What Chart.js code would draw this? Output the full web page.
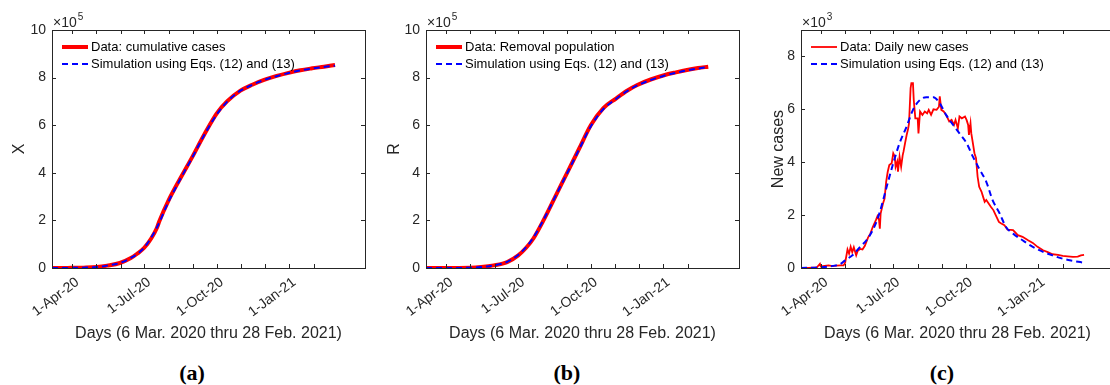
<!DOCTYPE html>
<html>
<head>
<meta charset="utf-8">
<script src="https://cdn.jsdelivr.net/npm/chart.js@4.4.0/dist/chart.umd.min.js"></script>
<style>
  html, body { margin: 0; padding: 0; background: #fff; overflow: hidden; width: 1110px; height: 385px; }
  .panel { position: absolute; top: 0; }
  .cap { position: absolute; top: 360px; width: 60px; margin-left: -30px; text-align: center;
         font: bold 22px "Liberation Serif", "Times New Roman", serif; line-height: 26px; color: #000; }
</style>
</head>
<body>
<canvas id="chartA" class="panel" width="370" height="345" style="left:0px"></canvas>
<canvas id="chartB" class="panel" width="370" height="345" style="left:370px"></canvas>
<canvas id="chartC" class="panel" width="375" height="345" style="left:740px"></canvas>
<div class="cap" style="left:192px">(a)</div>
<div class="cap" style="left:567px">(b)</div>
<div class="cap" style="left:942px">(c)</div>
<script>
// x values are days counted from 6 Mar 2020
const monthTicks = [26, 56, 87, 117, 148, 179, 209, 240, 270, 301, 332];
const monthLabels = { 26: '1-Apr-20', 117: '1-Jul-20', 209: '1-Oct-20', 301: '1-Jan-21' };

// (a) cumulative cases, x10^5
const casesDays = [0, 20, 40, 57, 70, 86, 100, 108, 117, 126, 133, 136, 148, 163, 178, 193, 209, 222, 239, 254, 269, 285, 300, 315, 330, 345, 359];
const casesData = [0, 0.005, 0.015, 0.04, 0.1, 0.21, 0.42, 0.6, 0.85, 1.25, 1.68, 1.95, 2.85, 3.78, 4.67, 5.6, 6.5, 7.0, 7.45, 7.7, 7.9, 8.07, 8.2, 8.31, 8.39, 8.46, 8.53];
const simXDays = [0, 20, 40, 57, 70, 86, 100, 117, 133, 148, 163, 178, 193, 209, 222, 239, 254, 269, 285, 300, 315, 330, 345, 359];
const simXData = [0, 0.005, 0.015, 0.04, 0.1, 0.21, 0.42, 0.86, 1.7, 2.8, 3.75, 4.65, 5.58, 6.45, 6.98, 7.45, 7.7, 7.9, 8.06, 8.19, 8.3, 8.38, 8.45, 8.5];

// (b) removal population, x10^5
const removedDays = [0, 30, 56, 70, 86, 103, 117, 127, 136, 149, 164, 179, 194, 209, 225, 241, 255, 268, 285, 302, 317, 331, 345, 358];
const removedData = [0, 0.002, 0.01, 0.04, 0.11, 0.25, 0.53, 0.85, 1.23, 2.0, 3.0, 4.0, 5.0, 6.0, 6.72, 7.12, 7.45, 7.69, 7.92, 8.1, 8.22, 8.32, 8.4, 8.46];
const simRDays = [0, 30, 56, 70, 86, 103, 117, 127, 136, 149, 164, 179, 194, 209, 225, 241, 255, 268, 285, 302, 317, 331, 345, 358];
const simRData = [0, 0.002, 0.01, 0.04, 0.11, 0.26, 0.55, 0.88, 1.27, 2.02, 3.0, 3.98, 4.97, 5.95, 6.68, 7.1, 7.43, 7.67, 7.9, 8.08, 8.2, 8.3, 8.38, 8.44];

// (c) daily new cases, x10^3
const newDays = [0, 10, 20, 24, 25, 30, 35, 40, 45, 50, 54, 56, 59, 61, 63, 65, 67, 70, 72, 75, 78, 81, 85, 88, 91, 95, 97, 99, 100, 101, 104, 106, 108, 110, 112, 115, 117, 119, 120, 122, 123, 125, 127, 129, 130, 132, 134, 136, 137, 139, 140, 142, 143, 145, 148, 149, 151, 154, 157, 160, 162, 165, 168, 172, 175, 176, 178, 181, 184, 188, 191, 194, 196, 199, 201, 204, 208, 210, 212, 213, 215, 216, 218, 220, 222, 224, 226, 229, 231, 233, 235, 238, 241, 244, 248, 251, 254, 258, 262, 266, 269, 275, 281, 288, 294, 300, 307, 313, 319, 326, 332, 338, 345, 351, 355, 359];
const newCases = [0, 0, 0.02, 0.16, 0.06, 0.08, 0.1, 0.07, 0.09, 0.1, 0.1, 0.2, 0.7, 0.54, 0.8, 0.6, 0.78, 0.48, 0.65, 0.72, 0.7, 0.84, 1.15, 1.3, 1.55, 1.81, 1.96, 1.81, 1.49, 2.06, 2.44, 2.63, 3.26, 3.64, 3.89, 3.96, 4.34, 4.21, 3.83, 4.02, 3.64, 4.21, 3.83, 4.27, 4.4, 4.72, 5.03, 5.28, 5.47, 6.8, 6.99, 6.99, 6.36, 5.66, 5.66, 5.09, 5.92, 5.79, 5.92, 5.85, 5.98, 5.79, 6.0, 5.98, 6.1, 6.49, 5.98, 5.92, 5.79, 5.54, 5.6, 5.41, 5.6, 5.28, 5.73, 5.66, 5.73, 5.6, 5.41, 5.03, 5.47, 5.09, 4.72, 4.34, 4.15, 3.45, 3.07, 2.88, 2.69, 2.5, 2.57, 2.44, 2.31, 2.19, 1.93, 1.74, 1.68, 1.62, 1.45, 1.44, 1.43, 1.24, 1.18, 1.05, 0.95, 0.8, 0.67, 0.6, 0.52, 0.5, 0.46, 0.44, 0.42, 0.43, 0.48, 0.5];
const simNewDays = [0, 20, 40, 50, 56, 66, 75, 83, 92, 100, 108, 117, 125, 134, 142, 151, 159, 168, 176, 184, 193, 201, 210, 218, 227, 235, 243, 252, 260, 269, 281, 294, 307, 319, 332, 345, 359];
const simNewData = [0, 0.02, 0.08, 0.15, 0.29, 0.5, 0.8, 1.05, 1.49, 2.12, 3.0, 3.96, 4.72, 5.35, 5.98, 6.36, 6.46, 6.46, 6.23, 5.79, 5.41, 5.09, 4.72, 4.21, 3.7, 3.26, 2.57, 2.06, 1.55, 1.3, 1.05, 0.8, 0.61, 0.48, 0.35, 0.27, 0.2];

const FONT = '"Liberation Sans", Arial, sans-serif';
const AX = '#262626';
const LABEL_ROT = 37;

// box, inward ticks, legend inside the axes and the x10^n label
const matlabAxes = {
  id: 'matlabAxes',
  afterDatasetsDraw(chart, args, opts) {
    const { ctx, chartArea: a, scales } = chart;
    ctx.save();
    ctx.strokeStyle = AX;
    ctx.lineWidth = 1;
    ctx.strokeRect(Math.round(a.left) + 0.5, Math.round(a.top) + 0.5,
      Math.round(a.right - a.left), Math.round(a.bottom - a.top));
    ctx.beginPath();
    monthTicks.forEach(v => {
      const px = Math.round(scales.x.getPixelForValue(v)) + 0.5;
      ctx.moveTo(px, a.bottom); ctx.lineTo(px, a.bottom - 4);
      ctx.moveTo(px, a.top); ctx.lineTo(px, a.top + 4);
    });
    scales.y.ticks.forEach(t => {
      const py = Math.round(scales.y.getPixelForValue(t.value)) + 0.5;
      ctx.moveTo(a.left, py); ctx.lineTo(a.left + 4, py);
      ctx.moveTo(a.right, py); ctx.lineTo(a.right - 4, py);
    });
    ctx.stroke();

    // legend
    chart.data.datasets.forEach((ds, i) => {
      const y = a.top + 17 + i * 17;
      ctx.save();
      ctx.beginPath();
      ctx.strokeStyle = ds.borderColor;
      ctx.lineWidth = ds.borderWidth;
      ctx.setLineDash(ds.borderDash || []);
      ctx.moveTo(a.left + 10, y);
      ctx.lineTo(a.left + 36, y);
      ctx.stroke();
      ctx.restore();
      ctx.fillStyle = '#000';
      ctx.font = '13px ' + FONT;
      ctx.textBaseline = 'middle';
      ctx.fillText(ds.label, a.left + 39, y);
    });

    // exponent
    ctx.fillStyle = AX;
    ctx.textBaseline = 'alphabetic';
    ctx.font = '14px ' + FONT;
    ctx.fillText('\u00d710', a.left + 1, a.top - 3);
    const w = ctx.measureText('\u00d710').width;
    ctx.font = '10px ' + FONT;
    ctx.fillText(opts.exponent, a.left + 2 + w, a.top - 10);
    ctx.restore();
  }
};

function makePanel(id, o) {
  new Chart(document.getElementById(id), {
    type: 'line',
    data: {
      datasets: [{
        label: o.dataLabel,
        data: o.dataX.map((x, i) => ({ x: x, y: o.dataY[i] })),
        borderColor: '#ff0000',
        borderWidth: o.dataWidth,
        pointRadius: 0,
        cubicInterpolationMode: o.smooth ? 'monotone' : 'default',
        tension: 0,
        order: 1
      }, {
        label: 'Simulation using Eqs. (12) and (13)',
        data: o.simX.map((x, i) => ({ x: x, y: o.simY[i] })),
        borderColor: '#0000ff',
        borderWidth: 2,
        borderDash: [6, 4],
        pointRadius: 0,
        cubicInterpolationMode: 'monotone',
        order: 0
      }]
    },
    options: {
      responsive: false,
      animation: false,
      layout: { padding: { left: 0, right: o.padRight, top: 30, bottom: 0 } },
      plugins: {
        legend: { display: false },
        tooltip: { enabled: false },
        matlabAxes: { exponent: o.exponent }
      },
      scales: {
        x: {
          type: 'linear',
          min: 0,
          max: 397,
          afterBuildTicks: s => { s.ticks = monthTicks.map(v => ({ value: v })); },
          afterCalculateLabelRotation: s => { s.labelRotation = LABEL_ROT; },
          afterFit: s => { s.height = 77; },
          grid: { display: false, drawTicks: false },
          border: { display: false },
          ticks: {
            autoSkip: false, minRotation: LABEL_ROT, maxRotation: LABEL_ROT, padding: 6, labelOffset: 5,
            color: AX, font: { family: FONT, size: 14 },
            callback: v => monthLabels[v] || ''
          },
          title: {
            display: true, text: 'Days (6 Mar. 2020 thru 28 Feb. 2021)',
            color: AX, font: { family: FONT, size: 16 }, padding: { top: 0, bottom: 2 }
          }
        },
        y: {
          min: 0,
          max: o.yMax,
          afterBuildTicks: s => { s.ticks = o.yTicks.map(v => ({ value: v })); },
          afterFit: s => { s.width = o.yWidth; },
          grid: { display: false, drawTicks: false },
          border: { display: false },
          ticks: { padding: 6, color: AX, font: { family: FONT, size: 14 }, callback: v => String(v) },
          title: {
            display: true, text: o.yTitle, color: AX,
            font: { family: FONT, size: 16 }, padding: { top: o.titlePad, bottom: 0 }
          }
        }
      }
    },
    plugins: [matlabAxes]
  });
}

makePanel('chartA', {
  dataLabel: 'Data: cumulative cases', dataX: casesDays, dataY: casesData, dataWidth: 4, smooth: true,
  simX: simXDays, simY: simXData, yMax: 10, yTicks: [0, 2, 4, 6, 8, 10], yWidth: 52, padRight: 5,
  yTitle: 'X', titlePad: 10, exponent: '5'
});
makePanel('chartB', {
  dataLabel: 'Data: Removal population', dataX: removedDays, dataY: removedData, dataWidth: 4, smooth: true,
  simX: simRDays, simY: simRData, yMax: 10, yTicks: [0, 2, 4, 6, 8, 10], yWidth: 56, padRight: 1,
  yTitle: 'R', titlePad: 15, exponent: '5'
});
makePanel('chartC', {
  dataLabel: 'Data: Daily new cases', dataX: newDays, dataY: newCases, dataWidth: 1.8, smooth: false,
  simX: simNewDays, simY: simNewData, yMax: 9, yTicks: [0, 2, 4, 6, 8], yWidth: 61, padRight: 1,
  yTitle: 'New cases', titlePad: 29, exponent: '3'
});
</script>
</body>
</html>
